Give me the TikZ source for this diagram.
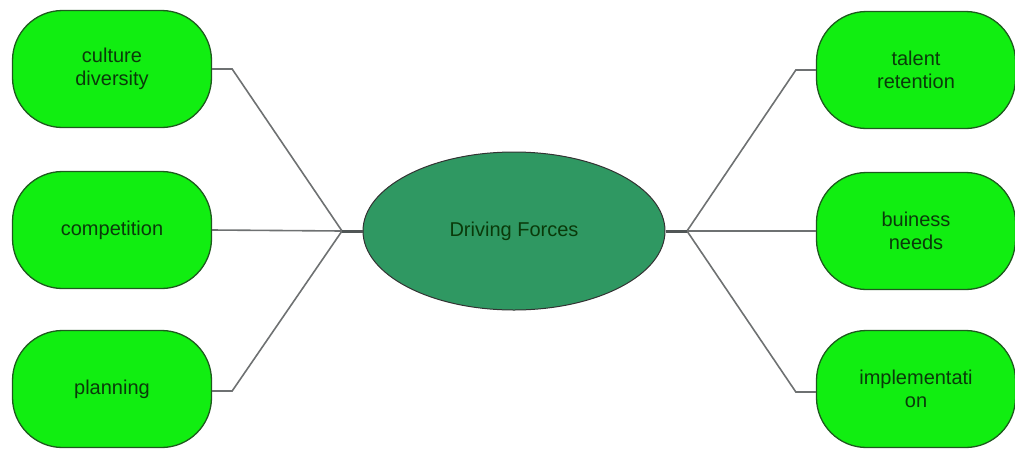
\documentclass[tikz,border=0pt]{standalone}
\usepackage{fontspec}
\setmainfont{Liberation Sans}
\usetikzlibrary{shapes.geometric}
\definecolor{boxfill}{HTML}{11EE11}
\definecolor{boxline}{HTML}{1E5A1E}
\definecolor{boxtext}{HTML}{0A3A0A}
\definecolor{hubfill}{HTML}{2F9862}
\definecolor{linegray}{HTML}{6E7172}
\definecolor{hubgray}{HTML}{505656}
\begin{document}
\begin{tikzpicture}[x=1pt,y=-1pt,
    box/.style={draw=boxline,fill=boxfill,line width=1.3pt,rounded corners=50pt,
      minimum width=199pt,minimum height=117pt,align=center,text=boxtext,
      font=\fontsize{20}{23}\selectfont},
    conn/.style={draw=linegray,line width=1.6pt},
    hub/.style={draw=hubgray,line width=3pt}]
  \useasboundingbox (0,0) rectangle (1015,448);

  \node[ellipse,draw=black!80,fill=hubfill,line width=1pt,minimum width=302pt,
    minimum height=158pt,inner sep=0pt,font=\fontsize{20}{23}\selectfont,
    text=boxtext] (DF) at (514,231){Driving Forces};

  \node[box] (CD) at (112,69){culture\\diversity};
  \node[box] (CO) at (112,230){competition};
  \node[box] (PL) at (112,389){planning};
  \node[box] (TR) at (916,70){talent\\retention};
  \node[box] (BN) at (916,231){buiness\\needs};
  \node[box] (IM) at (916,389){implementati\\on};

  \coordinate (L) at (342,231);
  \coordinate (R) at (687,231);

  \draw[conn] (CD.east) -- ++(20,0) -- (L);
  \draw[conn] (CO.east) -- (L);
  \draw[conn] (PL.east) ++(0,2) -- ++(20,0) -- (L);
  \draw[hub] (L) -- (DF);

  \draw[conn] (TR.west) -- ++(-20,0) -- (R);
  \draw[conn] (BN.west) -- (R);
  \draw[conn] (IM.west) ++(0,3) -- ++(-20,0) -- (R);
  \draw[hub] (R) -- (DF);
\end{tikzpicture}
\end{document}
